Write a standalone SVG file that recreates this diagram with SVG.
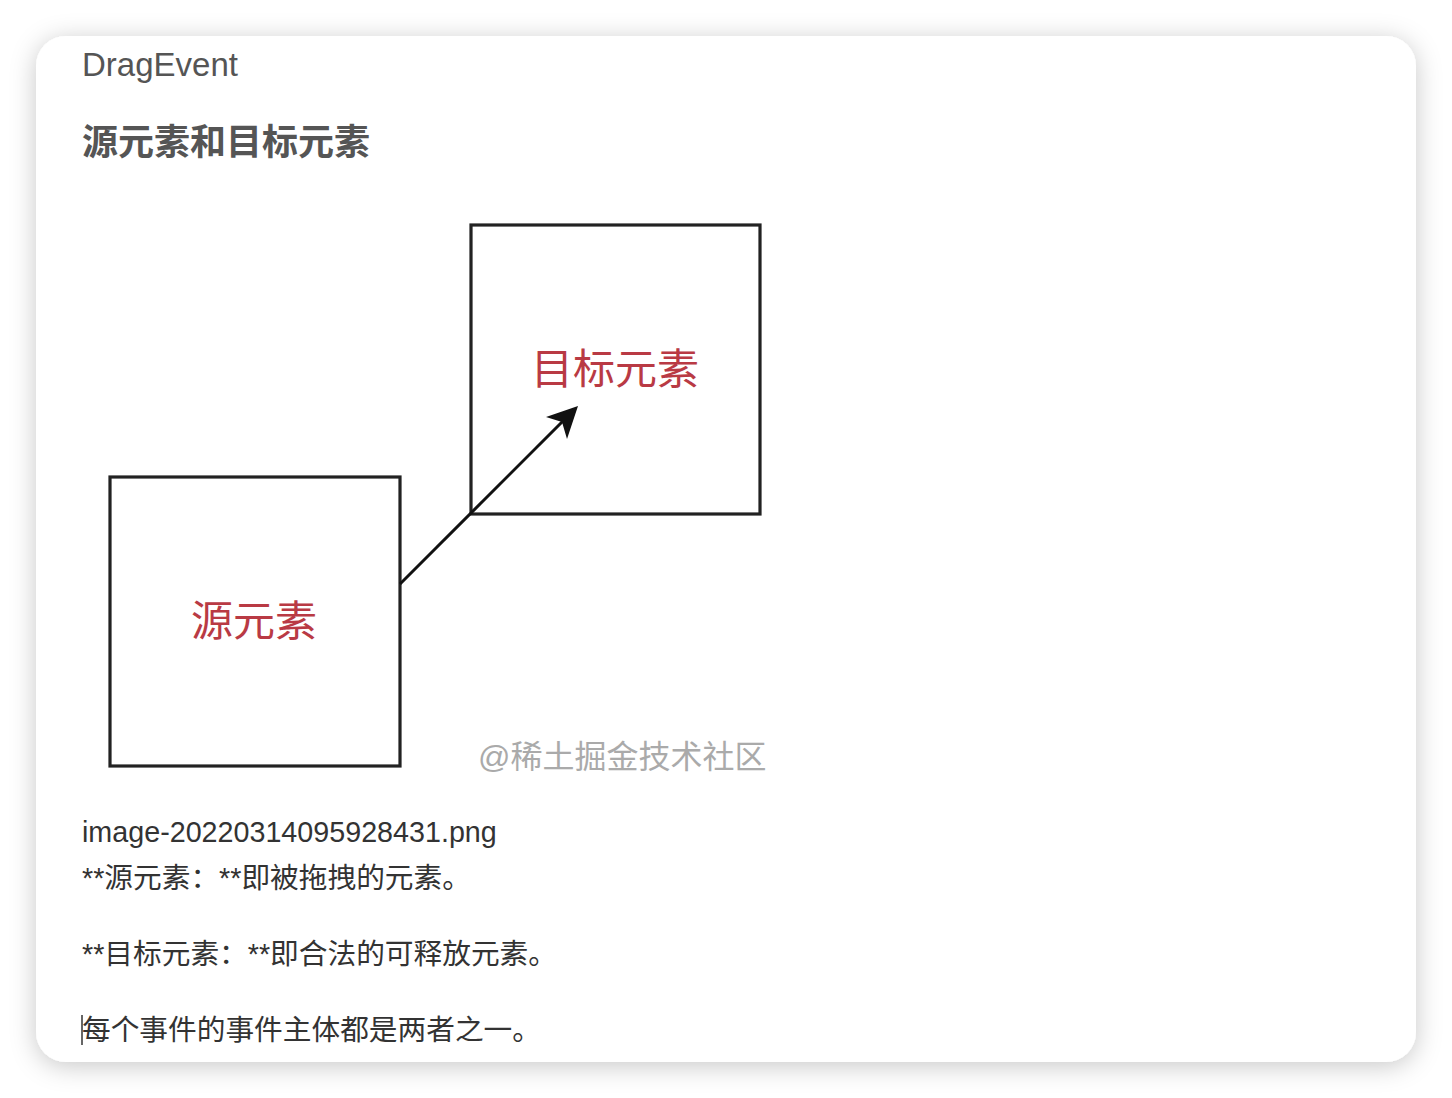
<svg xmlns="http://www.w3.org/2000/svg" width="1452" height="1098" viewBox="0 0 1452 1098">
<defs>
<filter id="shadow" x="-10%" y="-10%" width="120%" height="120%">
<feDropShadow dx="0" dy="4" stdDeviation="13" flood-color="#000" flood-opacity="0.22"/>
</filter>
</defs>
<style>
.t{font-family:"Liberation Sans","Noto Sans CJK SC",sans-serif;}
.body{font-size:28.7px;fill:#333;}
.box{fill:#fff;stroke:#222;stroke-width:3.2;}
.red{font-family:"Noto Sans CJK SC",sans-serif;font-size:42px;fill:#b93a44;text-anchor:middle;}
</style>
<rect width="1452" height="1098" fill="#fff"/>
<rect x="36" y="36" width="1380" height="1026" rx="30" ry="30" fill="#fff" filter="url(#shadow)"/>
<text class="t" x="82" y="76" font-size="33" fill="#555">DragEvent</text>
<text class="t" x="82" y="155" font-size="36" font-weight="bold" fill="#555">源元素和目标元素</text>
<g id="source">
<rect class="box" x="110" y="477" width="290" height="289"/>
<text class="red" x="254" y="636">源元素</text>
</g>
<g id="target">
<rect class="box" x="471" y="225" width="289" height="289"/>
<text class="red" x="615" y="384">目标元素</text>
</g>
<g id="connectors">
<line x1="400" y1="584" x2="563" y2="421" stroke="#111" stroke-width="3"/>
<polygon points="578,406 546,417 562,422 567,439" fill="#111"/>
</g>
<text class="t" x="478" y="768" font-size="32" fill="#aaa">@稀土掘金技术社区</text>
<text class="t body" x="82" y="842">image-20220314095928431.png</text>
<text class="t body" x="82" y="888">**源元素：**即被拖拽的元素。</text>
<text class="t body" x="82" y="964">**目标元素：**即合法的可释放元素。</text>
<text class="t body" x="82" y="1040">每个事件的事件主体都是两者之一。</text>
<line x1="82" y1="1015" x2="82" y2="1045" stroke="#333" stroke-width="1.5"/>
</svg>
